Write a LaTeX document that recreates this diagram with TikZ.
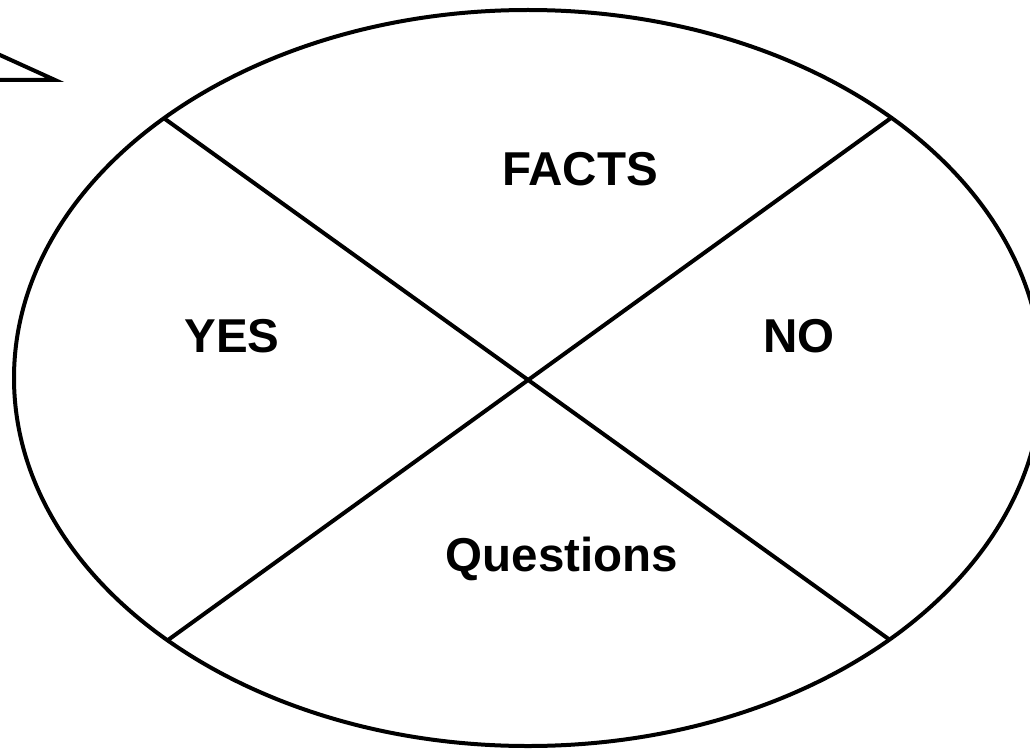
\documentclass[tikz,border=0pt]{standalone}
\usepackage{fontspec}
\setmainfont{Liberation Sans}
\begin{document}
\begin{tikzpicture}[x=1pt,y=-1pt,
  edge/.style={line width=4pt,black},
  lbl/.style={font=\fontsize{47.5}{54}\selectfont\bfseries,anchor=base,inner sep=0pt}]
\useasboundingbox (0,0) rectangle (1030,749);
\begin{scope}
\clip (0,0) rectangle (1030,749);
\draw[edge] (528,378) ellipse [x radius=514, y radius=368];
\coordinate (ul) at (165,119);
\coordinate (ur) at (891,118);
\coordinate (ll) at (168,640);
\coordinate (lr) at (890,640);
\draw[edge] (ul) -- (lr);
\draw[edge] (ur) -- (ll);
\coordinate (t1) at (-10,50.5);
\coordinate (t2) at (55,80);
\coordinate (t3) at (-10,80);
\draw[edge,line join=miter] (t1) -- (t2) -- (t3);
\end{scope}
\node[lbl] (facts) at (580,185) {FACTS};
\node[lbl] (yes) at (232,352) {YES};
\node[lbl] (no) at (799,352) {NO};
\node[lbl] (q) at (562,571) {Questions};
\end{tikzpicture}
\end{document}
